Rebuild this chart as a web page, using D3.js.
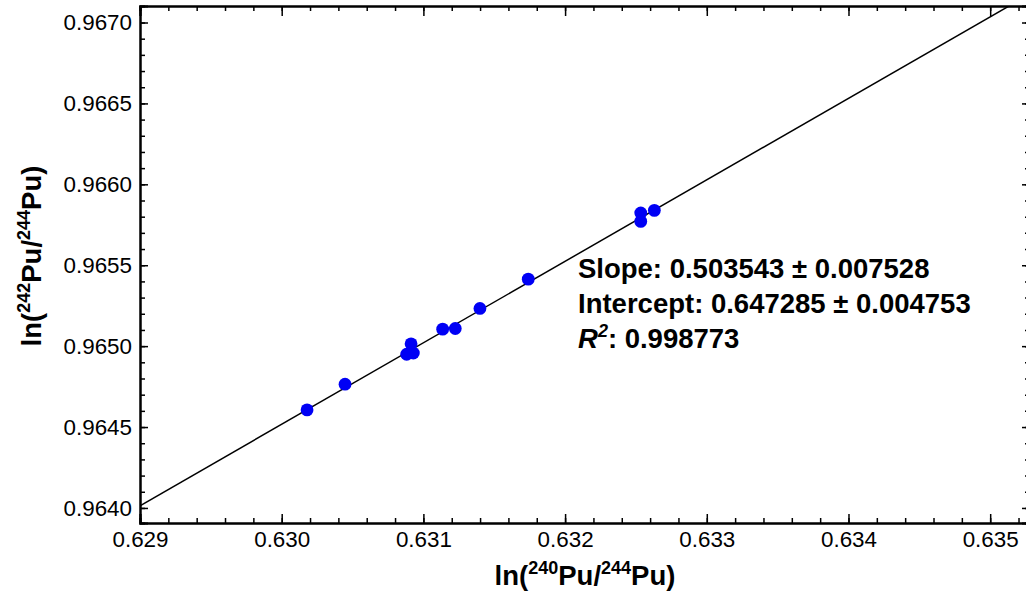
<!DOCTYPE html>
<html>
<head>
<meta charset="utf-8">
<script src="https://cdn.jsdelivr.net/npm/d3@7"></script>
<style>
  html, body { margin: 0; padding: 0; background: #fff; }
  svg { display: block; font-family: "Liberation Sans", Arial, sans-serif; }
  .tick text { font-size: 22.4px; fill: #000; font-family: "Liberation Sans", Arial, sans-serif; }
</style>
</head>
<body>
<svg id="chart" width="1026" height="591"></svg>
<script>
// Measured isotope ratios (natural logs)
const lnPu240Pu244 = [0.630179, 0.630447, 0.630882, 0.630929, 0.630913, 0.631136,
                      0.631225, 0.631399, 0.631740, 0.632534, 0.632534, 0.632630];
const lnPu242Pu244 = [0.964606, 0.964765, 0.964950, 0.964957, 0.965014, 0.965105,
                      0.965109, 0.965233, 0.965414, 0.965823, 0.965771, 0.965839];

// Linear fit results
const fitSlope = 0.503543;
const fitSlopeErr = 0.007528;
const fitIntercept = 0.647285;
const fitInterceptErr = 0.004753;
const fitR2 = 0.998773;

// Axis ticks
const xMajorTicks = [0.629, 0.630, 0.631, 0.632, 0.633, 0.634, 0.635];
const yMajorTicks = [0.9640, 0.9645, 0.9650, 0.9655, 0.9660, 0.9665, 0.9670];

const svg = d3.select("#chart");
const plotL = 140, plotR = 1030, plotT = 6, plotB = 523;

const x = d3.scaleLinear().domain([0.629, 0.635281]).range([plotL, plotR]);
const y = d3.scaleLinear().domain([0.963907, 0.967102]).range([plotB, plotT]);

const xMinor = d3.range(0, 32).map(i => +(0.629 + i * 0.0002).toFixed(4)).filter(v => v <= x.domain()[1]);
const yMinor = d3.range(0, 32).map(i => +(0.9639 + i * 0.0001).toFixed(4))
  .filter(v => v >= y.domain()[0] && v <= y.domain()[1]);

svg.append("defs").append("clipPath").attr("id", "plotClip")
  .append("rect").attr("x", plotL).attr("y", plotT)
  .attr("width", plotR - plotL).attr("height", plotB - plotT);

// Frame axes with inward ticks
function drawAxis(axisGen, transform) {
  const g = svg.append("g").attr("transform", transform).call(axisGen);
  g.attr("font-size", null).attr("font-family", null);
  g.select(".domain").attr("stroke", "#000").attr("stroke-width", 2);
  g.selectAll(".tick line").attr("stroke", "#000").attr("stroke-width", 1.5);
  return g;
}

// Bottom axis: minor then major with labels
drawAxis(d3.axisBottom(x).tickValues(xMinor).tickSize(-5).tickFormat(""), `translate(0,${plotB})`);
drawAxis(d3.axisBottom(x).tickValues(xMajorTicks).tickSize(-9).tickPadding(8)
  .tickFormat(d3.format(".3f")), `translate(0,${plotB})`);

// Top axis
drawAxis(d3.axisTop(x).tickValues(xMinor).tickSize(-5).tickFormat(""), `translate(0,${plotT})`);
drawAxis(d3.axisTop(x).tickValues(xMajorTicks).tickSize(-10).tickFormat(""), `translate(0,${plotT})`);

// Left axis
drawAxis(d3.axisLeft(y).tickValues(yMinor).tickSize(-5).tickFormat(""), `translate(${plotL},0)`);
drawAxis(d3.axisLeft(y).tickValues(yMajorTicks).tickSize(-8).tickPadding(8)
  .tickFormat(d3.format(".4f")), `translate(${plotL},0)`);

// Right axis
drawAxis(d3.axisRight(y).tickValues(yMinor).tickSize(-5).tickFormat(""), `translate(${plotR},0)`);
drawAxis(d3.axisRight(y).tickValues(yMajorTicks).tickSize(-8).tickFormat(""), `translate(${plotR},0)`);

// Fitted line
const xd = x.domain();
svg.append("line")
  .attr("clip-path", "url(#plotClip)")
  .attr("x1", x(xd[0])).attr("y1", y(fitSlope * xd[0] + fitIntercept))
  .attr("x2", x(xd[1])).attr("y2", y(fitSlope * xd[1] + fitIntercept))
  .attr("stroke", "#000").attr("stroke-width", 1.5);

// Data points
svg.append("g").selectAll("circle")
  .data(d3.zip(lnPu240Pu244, lnPu242Pu244))
  .join("circle")
  .attr("cx", d => x(d[0]))
  .attr("cy", d => y(d[1]))
  .attr("r", 6.4)
  .attr("fill", "#0000f5");

// Fit annotation
const ann = svg.append("g").attr("font-weight", "bold").style("font-size", "27.5px").attr("fill", "#000");
ann.append("text").attr("x", 578).attr("y", 278)
  .text(`Slope: ${fitSlope.toFixed(6)} \u00B1 ${fitSlopeErr.toFixed(6)}`);
ann.append("text").attr("x", 578).attr("y", 313)
  .text(`Intercept: ${fitIntercept.toFixed(6)} \u00B1 ${fitInterceptErr.toFixed(6)}`);
const r2 = ann.append("text").attr("x", 578).attr("y", 348);
r2.append("tspan").attr("font-style", "italic").text("R");
r2.append("tspan").attr("font-style", "italic").style("font-size", "18px").attr("dy", -11).text("2");
r2.append("tspan").attr("dy", 11).text(`: ${fitR2.toFixed(6)}`);

// Axis titles
const xt = svg.append("text").attr("x", 585).attr("y", 585).attr("text-anchor", "middle")
  .attr("font-weight", "bold").style("font-size", "27.5px").attr("fill", "#000");
xt.append("tspan").text("ln(");
xt.append("tspan").style("font-size", "18px").attr("dy", -11).text("240");
xt.append("tspan").attr("dy", 11).text("Pu/");
xt.append("tspan").style("font-size", "18px").attr("dy", -11).text("244");
xt.append("tspan").attr("dy", 11).text("Pu)");

const yt = svg.append("text").attr("transform", "translate(41,256) rotate(-90)")
  .attr("text-anchor", "middle")
  .attr("font-weight", "bold").style("font-size", "27.5px").attr("fill", "#000");
yt.append("tspan").text("ln(");
yt.append("tspan").style("font-size", "18px").attr("dy", -11).text("242");
yt.append("tspan").attr("dy", 11).text("Pu/");
yt.append("tspan").style("font-size", "18px").attr("dy", -11).text("244");
yt.append("tspan").attr("dy", 11).text("Pu)");
</script>
</body>
</html>
